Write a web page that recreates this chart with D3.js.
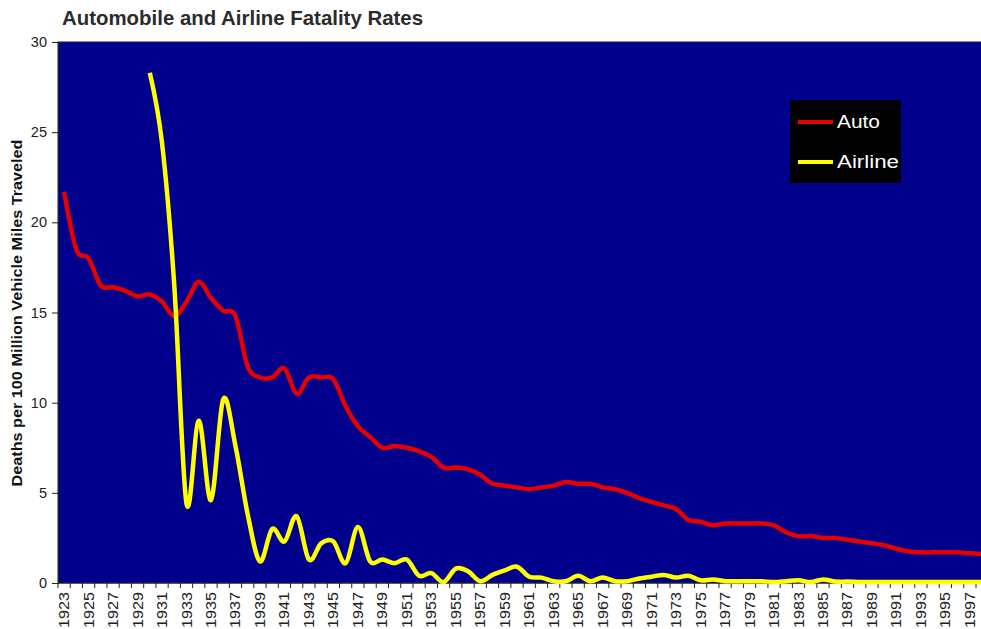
<!DOCTYPE html>
<html>
<head>
<meta charset="utf-8">
<script src="https://cdn.jsdelivr.net/npm/d3@7"></script>
<style>
  html, body { margin: 0; padding: 0; background: #fff; }
  #chart { width: 981px; height: 629px; overflow: hidden; }
  text { font-family: "Liberation Sans", Arial, sans-serif; }
</style>
</head>
<body>
<div id="chart"></div>
<script>
// Years on the category axis
const years = [1923, 1924, 1925, 1926, 1927, 1928, 1929, 1930, 1931, 1932,
  1933, 1934, 1935, 1936, 1937, 1938, 1939, 1940, 1941, 1942,
  1943, 1944, 1945, 1946, 1947, 1948, 1949, 1950, 1951, 1952,
  1953, 1954, 1955, 1956, 1957, 1958, 1959, 1960, 1961, 1962,
  1963, 1964, 1965, 1966, 1967, 1968, 1969, 1970, 1971, 1972,
  1973, 1974, 1975, 1976, 1977, 1978, 1979, 1980, 1981, 1982,
  1983, 1984, 1985, 1986, 1987, 1988, 1989, 1990, 1991, 1992,
  1993, 1994, 1995, 1996, 1997, 1998];

// Deaths per 100 million vehicle miles
const autoRates = [21.7, 18.5, 18.0, 16.5, 16.4, 16.2, 15.9, 16.0, 15.6, 14.8,
  15.6, 16.7, 15.8, 15.1, 14.8, 12.0, 11.4, 11.4, 11.9, 10.5,
  11.4, 11.4, 11.3, 9.8, 8.7, 8.1, 7.5, 7.6, 7.5, 7.3,
  7.0, 6.4, 6.4, 6.3, 6.0, 5.5, 5.4, 5.3, 5.2, 5.3,
  5.4, 5.6, 5.5, 5.5, 5.3, 5.2, 5.0, 4.7, 4.5, 4.3,
  4.1, 3.5, 3.4, 3.2, 3.3, 3.3, 3.3, 3.3, 3.2, 2.8,
  2.6, 2.6, 2.5, 2.5, 2.4, 2.3, 2.2, 2.1, 1.9, 1.75,
  1.7, 1.7, 1.7, 1.7, 1.65, 1.6];

const airlineRates = [null, null, null, null, null, null, null, 28.3, 24.4, 16.5,
  4.4, 9.0, 4.6, 10.2, 7.6, 3.8, 1.2, 3.0, 2.3, 3.7,
  1.3, 2.2, 2.3, 1.1, 3.1, 1.2, 1.3, 1.1, 1.3, 0.4,
  0.55, 0.05, 0.8, 0.65, 0.1, 0.45, 0.7, 0.9, 0.35, 0.3,
  0.1, 0.1, 0.4, 0.1, 0.3, 0.1, 0.1, 0.25, 0.35, 0.45,
  0.3, 0.4, 0.15, 0.2, 0.1, 0.1, 0.1, 0.1, 0.05, 0.1,
  0.15, 0.05, 0.2, 0.08, 0.08, 0.06, 0.06, 0.06, 0.06, 0.06,
  0.06, 0.06, 0.06, 0.06, 0.06, 0.06];

const yTicks = [0, 5, 10, 15, 20, 25, 30];
const seriesNames = ["Auto", "Airline"];
const seriesColors = ["#e60000", "#ffff00"];

const width = 981, height = 629;
const margin = { top: 42, left: 58, bottom: 46 };
const step = 12.24;
const plotRight = margin.left + years.length * step;
const plotBottom = height - margin.bottom;

const svg = d3.select("#chart")
  .append("svg")
  .attr("width", width)
  .attr("height", height);

const x = d3.scaleBand()
  .domain(years)
  .range([margin.left, plotRight])
  .padding(0);

const y = d3.scaleLinear()
  .domain([0, 30])
  .range([plotBottom, margin.top]);

const cx = d => x(d) + x.bandwidth() / 2;

// Title
svg.append("text")
  .attr("x", 62)
  .attr("y", 25)
  .attr("textLength", 361)
  .attr("lengthAdjust", "spacingAndGlyphs")
  .style("font-family", "'Liberation Sans Narrow', 'Arial Narrow', 'Liberation Sans', sans-serif")
  .style("font-weight", "bold")
  .style("font-size", "21px")
  .style("fill", "#2b2b2b")
  .text("Automobile and Airline Fatality Rates");

// Plot background
svg.append("rect")
  .attr("x", margin.left)
  .attr("y", margin.top)
  .attr("width", plotRight - margin.left)
  .attr("height", plotBottom - margin.top)
  .attr("fill", "#00008c")
  .attr("stroke", "#1a1a3a")
  .attr("stroke-width", 1);

// Y axis
const yAxis = svg.append("g")
  .attr("transform", `translate(${margin.left},0)`)
  .call(d3.axisLeft(y).tickValues(yTicks).tickSize(6).tickPadding(5).tickFormat(d3.format("d")));
yAxis.select(".domain").attr("stroke", "#222");
yAxis.selectAll(".tick line").attr("stroke", "#222");
yAxis.selectAll(".tick text")
  .style("font-size", "14.5px")
  .style("fill", "#222");

// Y axis title
svg.append("text")
  .attr("transform", "translate(22,313) rotate(-90)")
  .attr("text-anchor", "middle")
  .attr("textLength", 347)
  .attr("lengthAdjust", "spacingAndGlyphs")
  .style("font-weight", "bold")
  .style("font-size", "15px")
  .style("fill", "#111")
  .text("Deaths per 100 Million Vehicle Miles Traveled");

// X axis: tick marks on category boundaries
const xAxisG = svg.append("g");
xAxisG.append("line")
  .attr("x1", margin.left).attr("x2", plotRight)
  .attr("y1", plotBottom).attr("y2", plotBottom)
  .attr("stroke", "#222");
xAxisG.selectAll("line.tick")
  .data(years.concat(["end"]))
  .join("line")
  .attr("class", "tick")
  .attr("x1", d => d === "end" ? plotRight : x(d))
  .attr("x2", d => d === "end" ? plotRight : x(d))
  .attr("y1", plotBottom)
  .attr("y2", plotBottom + 5)
  .attr("stroke", "#222");

// X labels, every other year, rotated (squeezed to stay inside the frame)
xAxisG.selectAll("text")
  .data(years.filter((d, i) => i % 2 === 0))
  .join("text")
  .attr("transform", d => `translate(${cx(d) + 5},${plotBottom + 9}) rotate(-90)`)
  .attr("text-anchor", "end")
  .attr("textLength", 36)
  .attr("lengthAdjust", "spacingAndGlyphs")
  .style("font-size", "14px")
  .style("fill", "#222")
  .text(d => d);

// Lines
svg.append("clipPath").attr("id", "plotclip")
  .append("rect")
  .attr("x", margin.left).attr("y", margin.top - 5)
  .attr("width", plotRight - margin.left).attr("height", plotBottom - margin.top + 10);

const line = d3.line()
  .defined(d => d.v != null)
  .x(d => cx(d.year))
  .y(d => y(d.v))
  .curve(d3.curveCardinal.tension(0));

[autoRates, airlineRates].forEach((vals, i) => {
  const pts = years.map((yr, j) => ({ year: yr, v: vals[j] }));
  svg.append("path")
    .datum(pts)
    .attr("clip-path", "url(#plotclip)")
    .attr("fill", "none")
    .attr("stroke", seriesColors[i])
    .attr("stroke-width", 4.5)
    .attr("stroke-linejoin", "round")
    .attr("d", line);
});

// Legend
const legend = svg.append("g").attr("transform", "translate(790,100)");
legend.append("rect")
  .attr("width", 111)
  .attr("height", 83)
  .attr("fill", "#000");
const labelWidths = [43, 62];
seriesNames.forEach((name, i) => {
  const ly = 22 + i * 40;
  legend.append("line")
    .attr("x1", 8).attr("x2", 43)
    .attr("y1", ly).attr("y2", ly)
    .attr("stroke", seriesColors[i])
    .attr("stroke-width", 4);
  legend.append("text")
    .attr("x", 47)
    .attr("y", ly + 6)
    .attr("textLength", labelWidths[i])
    .attr("lengthAdjust", "spacingAndGlyphs")
    .style("font-size", "18px")
    .style("fill", "#fff")
    .text(name);
});
</script>
</body>
</html>
